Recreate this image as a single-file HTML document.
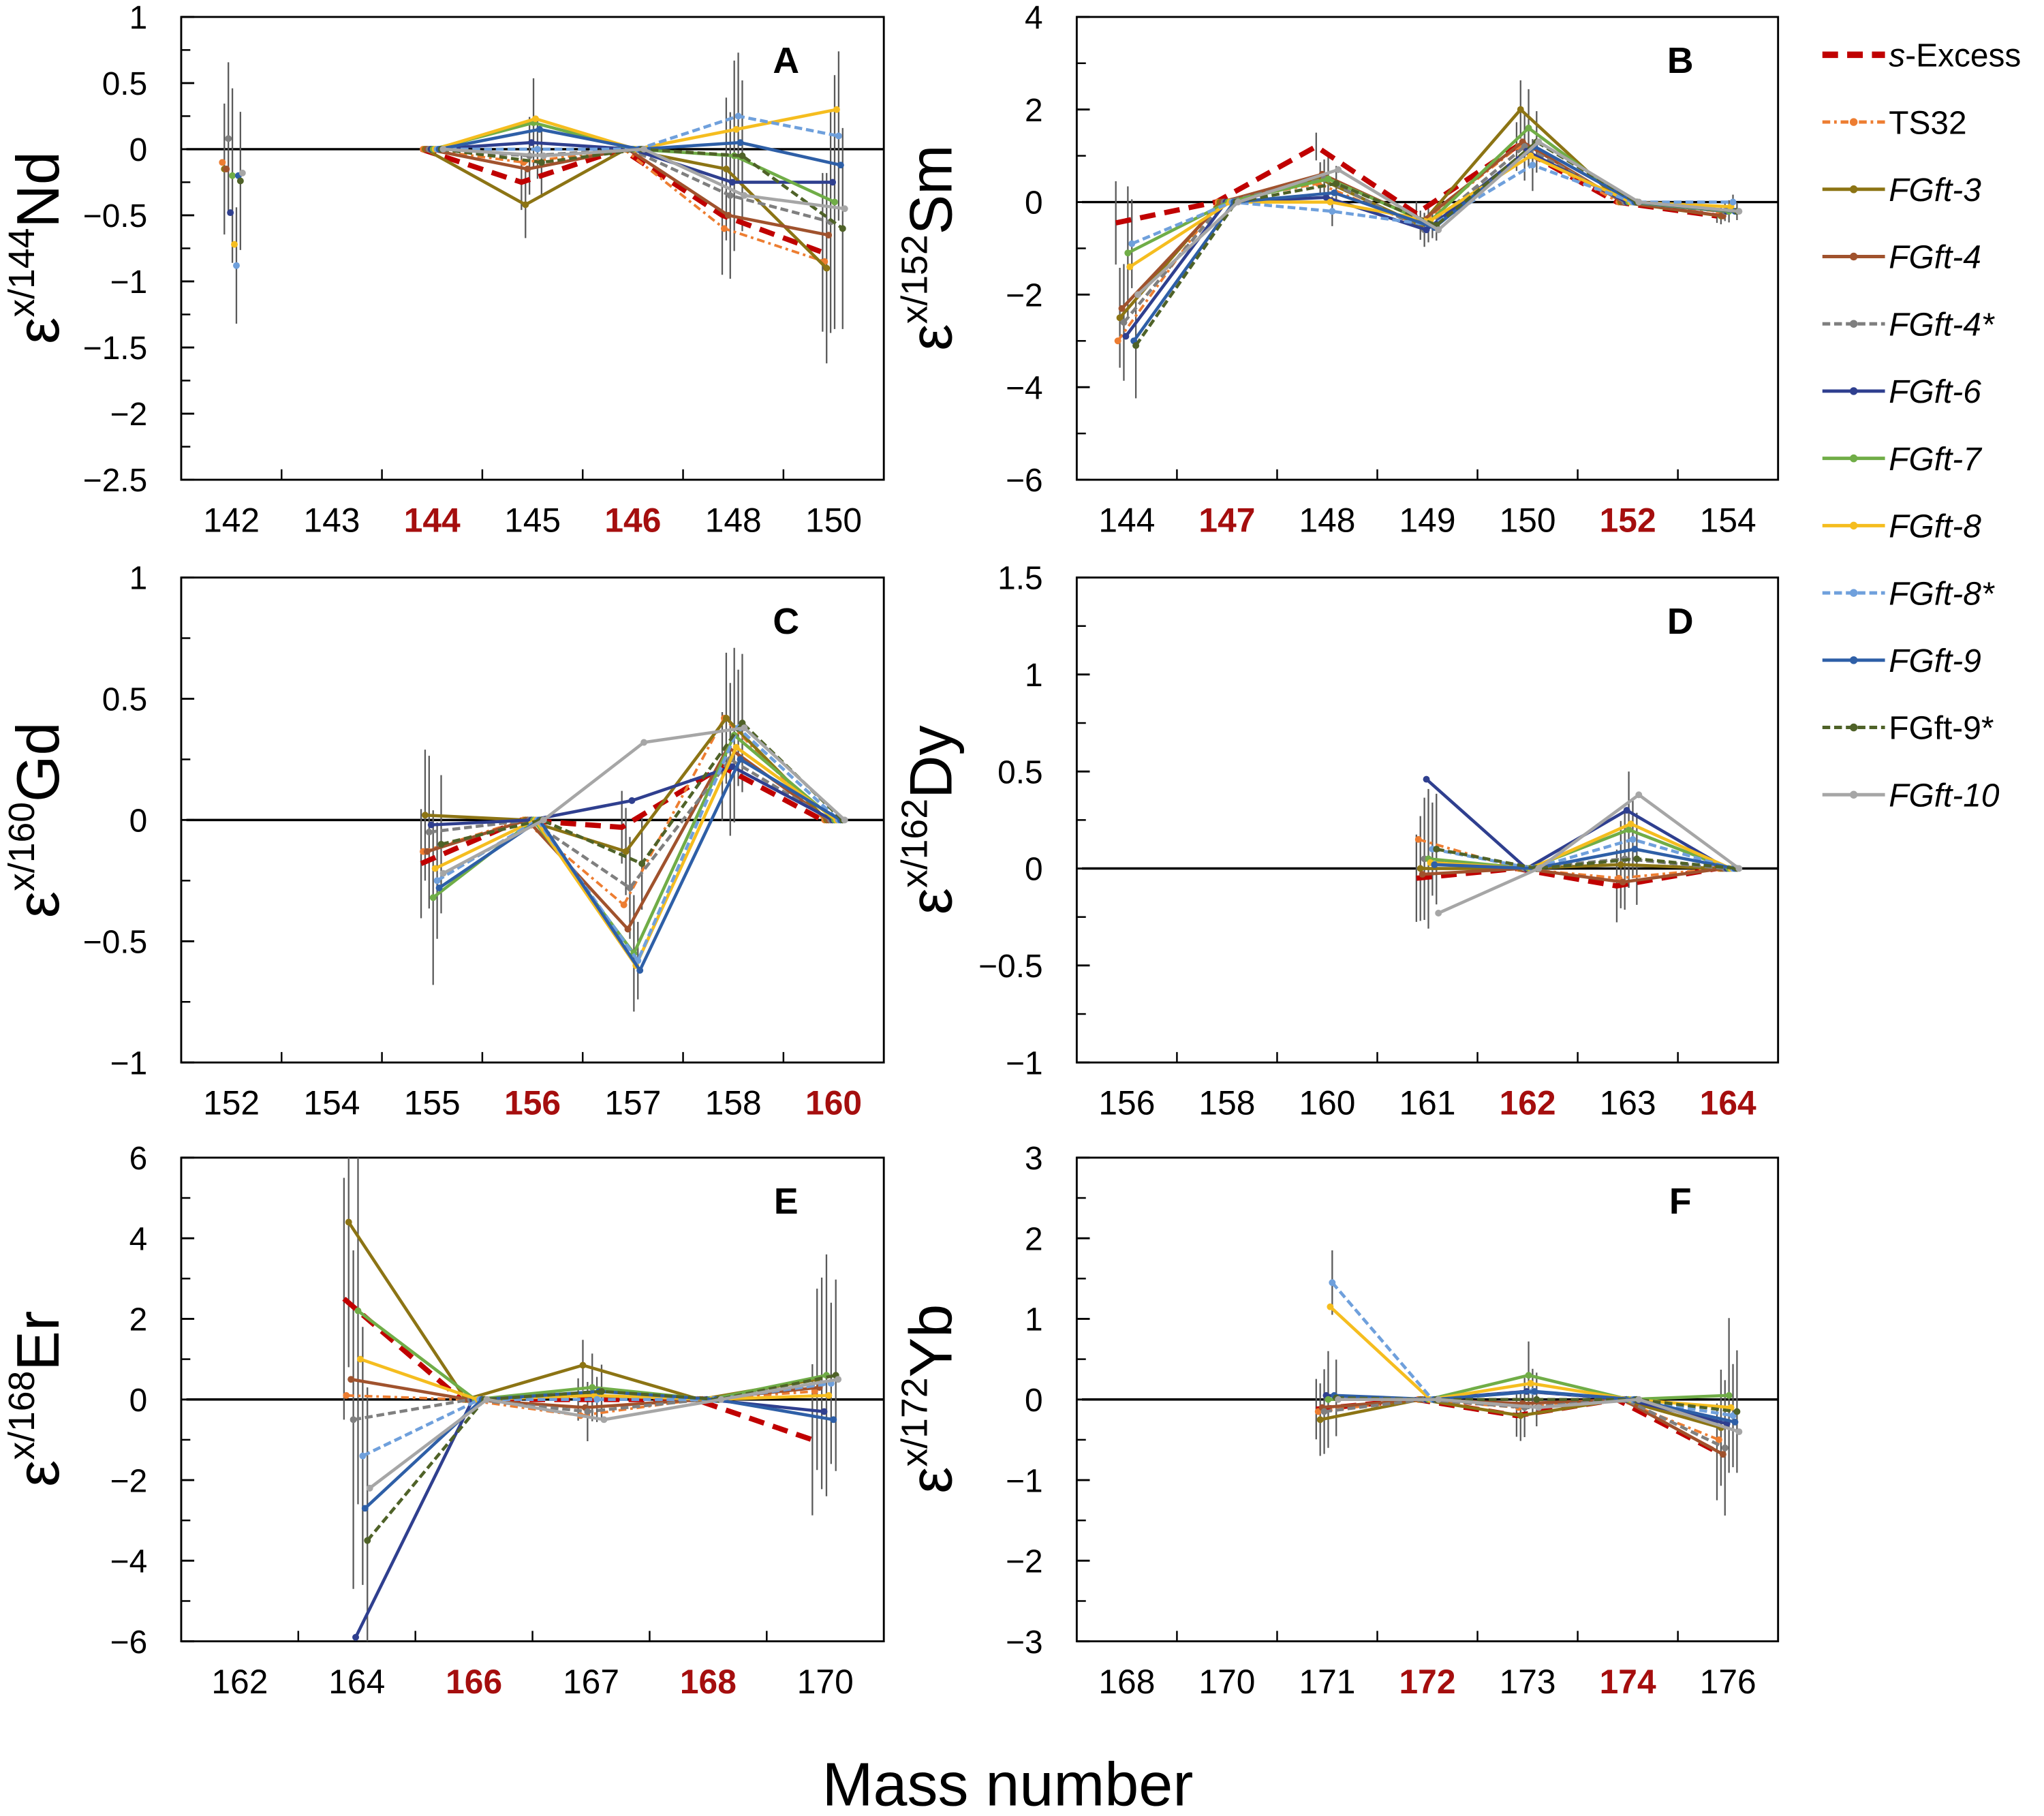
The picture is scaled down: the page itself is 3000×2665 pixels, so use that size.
<!DOCTYPE html>
<html><head><meta charset="utf-8">
<style>
html,body{margin:0;padding:0;background:#fff;}
svg{display:block;}
text{font-family:"Liberation Sans",sans-serif;}
</style></head>
<body>
<svg id="chart" width="3000" height="2665" viewBox="0 0 1568 1393" preserveAspectRatio="none" xmlns="http://www.w3.org/2000/svg">
<text x="773" y="1385" font-size="47" text-anchor="middle">Mass number</text>
</svg>
<script>
const seriesNames = ["s-Excess","TS32","FGft-3","FGft-4","FGft-4*","FGft-6","FGft-7","FGft-8","FGft-8*","FGft-9","FGft-9*","FGft-10"];
const seriesColors = ["#c00000","#ed7d31","#8c7414","#a0522d","#7f7f7f","#2f3f8f","#70ad47","#f5bd1f","#6fa0dc","#2e5fa7","#4f6228","#a6a6a6"];
const seriesDash = ["12,7","6,3,2,3","","","6,3","","","","6,3","","6,3",""];
const seriesWidth = [4,2,2.4,2.4,2.4,2.4,2.4,2.4,2.4,2.4,2.4,2.4];

const catsA = ["142","143","144","145","146","148","150"];
const redA = ["144","146"];
const ticksA = [1,0.5,0,-0.5,-1,-1.5,-2,-2.5];
const errA = [0.55,0,0,0.28,0,0.6,0.8];
const valsA = [
 [null,null,0,-0.25,0,-0.5,-0.78],
 [-0.1,null,0,-0.1,0,-0.6,-0.85],
 [-0.15,null,0,-0.42,0,-0.15,-0.9],
 [-0.15,null,0,-0.15,0,-0.5,-0.65],
 [0.08,null,0,-0.05,0,-0.35,-0.55],
 [-0.48,null,0,0.05,0,-0.25,-0.25],
 [-0.2,null,0,0.2,0,-0.05,-0.4],
 [-0.72,null,0,0.23,0,0.15,0.3],
 [-0.88,null,0,0.0,0,0.25,0.1],
 [-0.2,null,0,0.15,0,0.05,-0.12],
 [-0.24,null,0,-0.1,0,-0.05,-0.6],
 [-0.18,null,0,-0.05,0,-0.35,-0.45]];

const catsB = ["144","147","148","149","150","152","154"];
const redB = ["147","152"];
const ticksB = [4,2,0,-2,-4,-6];
const errB = [1.2,0,0.4,0.35,0.7,0,0.2];
const valsB = [
 [-0.45,0,1.2,-0.25,1.2,0,-0.3],
 [-3.0,0,0.4,-0.5,1.2,0,-0.2],
 [-2.5,0,0.5,-0.5,2.0,0,-0.3],
 [-2.3,0,0.6,-0.4,1.3,0,-0.3],
 [-2.6,0,0.5,-0.6,1.2,0,-0.2],
 [-2.9,0,0.1,-0.6,1.1,0,-0.2],
 [-1.1,0,0.5,-0.45,1.6,0,-0.2],
 [-1.4,0,0.0,-0.4,1.0,0,-0.1],
 [-0.9,0,-0.2,-0.5,0.8,0,0.0],
 [-3.0,0,0.2,-0.55,1.2,0,-0.2],
 [-3.1,0,0.4,-0.5,1.3,0,-0.2],
 [-2.0,0,0.7,-0.6,1.3,0,-0.2]];

const catsC = ["152","154","155","156","157","158","160"];
const redC = ["156","160"];
const ticksC = [1,0.5,0,-0.5,-1];
const errC = [0,0,0.3,0,0.2,0.3,0];
const valsC = [
 [null,null,-0.18,0,-0.03,0.22,0],
 [null,null,-0.13,0,-0.35,0.42,0],
 [null,null,0.02,0,-0.13,0.42,0],
 [null,null,-0.13,0,-0.45,0.3,0],
 [null,null,-0.05,0,-0.28,0.25,0],
 [null,null,-0.02,0,0.08,0.22,0],
 [null,null,-0.32,0,-0.55,0.35,0],
 [null,null,-0.2,0,-0.6,0.3,0],
 [null,null,-0.25,0,-0.58,0.38,0],
 [null,null,-0.28,0,-0.62,0.25,0],
 [null,null,-0.1,0,-0.18,0.4,0],
 [null,null,-0.22,0,0.32,0.38,0]];

const catsD = ["156","158","160","161","162","163","164"];
const redD = ["162","164"];
const ticksD = [1.5,1,0.5,0,-0.5,-1];
const errD = [0,0,0,0.3,0,0.25,0];
const valsD = [
 [null,null,null,-0.05,0,-0.09,0],
 [null,null,null,0.15,0,-0.05,0],
 [null,null,null,0.0,0,0.02,0],
 [null,null,null,-0.03,0,-0.07,0],
 [null,null,null,0.05,0,0.05,0],
 [null,null,null,0.46,0,0.3,0],
 [null,null,null,0.05,0,0.2,0],
 [null,null,null,0.03,0,0.23,0],
 [null,null,null,0.1,0,0.15,0],
 [null,null,null,0.02,0,0.1,0],
 [null,null,null,0.1,0,0.05,0],
 [null,null,null,-0.23,0,0.38,0]];

const catsE = ["162","164","166","167","168","170"];
const redE = ["166","168"];
const ticksE = [6,4,2,0,-2,-4,-6];
const errE = [0,4,0,0.7,0,2.5];
const valsE = [
 [null,2.5,0,0.0,0,-1.0],
 [null,0.1,0,-0.4,0,0.2],
 [null,4.4,0,0.85,0,0.5],
 [null,0.5,0,-0.2,0,0.3],
 [null,-0.5,0,-0.3,0,0.4],
 [null,-5.9,0,0.1,0,-0.3],
 [null,2.2,0,0.3,0,0.6],
 [null,1.0,0,0.1,0,0.1],
 [null,-1.4,0,0.0,0,0.4],
 [null,-2.7,0,0.2,0,-0.5],
 [null,-3.5,0,0.2,0,0.6],
 [null,-2.2,0,-0.5,0,0.5]];

const catsF = ["168","170","171","172","173","174","176"];
const redF = ["172","174"];
const ticksF = [3,2,1,0,-1,-2,-3];
const errF = [0,0,0.5,0,0.35,0,0.8];
const valsF = [
 [null,null,-0.12,0,-0.2,0,-0.65],
 [null,null,-0.15,0,-0.1,0,-0.5],
 [null,null,-0.25,0,-0.2,0,-0.35],
 [null,null,-0.1,0,-0.05,0,-0.68],
 [null,null,-0.15,0,-0.1,0,-0.6],
 [null,null,0.05,0,0.1,0,-0.3],
 [null,null,0.0,0,0.3,0,0.05],
 [null,null,1.15,0,0.2,0,-0.1],
 [null,null,1.45,0,0.1,0,-0.2],
 [null,null,0.05,0,0.1,0,-0.28],
 [null,null,0.02,0,0.0,0,-0.15],
 [null,null,0.0,0,-0.1,0,-0.4]];

const NS="http://www.w3.org/2000/svg";
const svg=document.getElementById('chart');
function mk(tag,attrs,parent){const e=document.createElementNS(NS,tag);for(const k in attrs)e.setAttribute(k,attrs[k]);(parent||svg).appendChild(e);return e;}

const panels=[
 {id:"a",letter:"A",x0:139,x1:678,y0:13,y1:368,cats:catsA,red:redA,ticks:ticksA,vals:valsA,err:errA,lab:"x/144",el:"Nd",ly:190,lx:45},
 {id:"b",letter:"B",x0:826,x1:1364,y0:13,y1:368,cats:catsB,red:redB,ticks:ticksB,vals:valsB,err:errB,lab:"x/152",el:"Sm",ly:190,lx:730},
 {id:"c",letter:"C",x0:139,x1:678,y0:443,y1:815,cats:catsC,red:redC,ticks:ticksC,vals:valsC,err:errC,lab:"x/160",el:"Gd",ly:629,lx:45},
 {id:"d",letter:"D",x0:826,x1:1364,y0:443,y1:815,cats:catsD,red:redD,ticks:ticksD,vals:valsD,err:errD,lab:"x/162",el:"Dy",ly:629,lx:730},
 {id:"e",letter:"E",x0:139,x1:678,y0:888,y1:1259,cats:catsE,red:redE,ticks:ticksE,vals:valsE,err:errE,lab:"x/168",el:"Er",ly:1073,lx:45},
 {id:"f",letter:"F",x0:826,x1:1364,y0:888,y1:1259,cats:catsF,red:redF,ticks:ticksF,vals:valsF,err:errF,lab:"x/172",el:"Yb",ly:1073,lx:730}];

panels.forEach(p=>{
 const g=mk('g',{});
 
 
 const n=p.cats.length, step=(p.x1-p.x0)/n;
 const ymax=p.ticks[0], ymin=p.ticks[p.ticks.length-1];
 const sx=(i,k)=>p.x0+step*(i+0.5)+(k-5.5)*step*0.02;
 const sy=v=>p.y0+(ymax-v)/(ymax-ymin)*(p.y1-p.y0);
 const cp=mk('clipPath',{id:'clip'+p.id},g);
 mk('rect',{x:p.x0,y:p.y0,width:p.x1-p.x0,height:p.y1-p.y0},cp);
 const fr=mk('rect',{x:p.x0,y:p.y0,width:p.x1-p.x0,height:p.y1-p.y0,fill:'none',stroke:'#000','stroke-width':1.5},g);
 
 
 const dt=p.ticks[0]-p.ticks[1];
 p.ticks.forEach((t,j)=>{
  const y=sy(t);
  mk('line',{x1:p.x0,x2:p.x0+10,y1:y,y2:y,stroke:'#000','stroke-width':1.5},g);
  if(j<p.ticks.length-1){const ym=sy(t-dt/2);mk('line',{x1:p.x0,x2:p.x0+7,y1:ym,y2:ym,stroke:'#000','stroke-width':1.3},g);}
  const tx=mk('text',{x:p.x0-26,y:y+9,'font-size':25,'text-anchor':'end'},g);
  tx.textContent=(t<0?'\u2212':'')+Math.abs(t);
  
  
 });
 for(let i=1;i<n;i++){const x=p.x0+step*i;mk('line',{x1:x,x2:x,y1:p.y1,y2:p.y1-8,stroke:'#000','stroke-width':1.3},g);}
 p.cats.forEach((c,i)=>{
  const isRed=p.red.indexOf(c)>=0;
  const tx=mk('text',{x:p.x0+step*(i+0.5),y:p.y1+40,'font-size':26,'text-anchor':'middle',fill:isRed?'#a50e0e':'#000','font-weight':isRed?'bold':'normal'},g);
  tx.textContent=c;
  
  
 });
 mk('line',{x1:p.x0+4,x2:p.x1,y1:sy(0),y2:sy(0),stroke:'#000','stroke-width':1.8},g);
 const yt=mk('text',{transform:`translate(${p.lx},${p.ly}) rotate(-90)`,'text-anchor':'middle','font-size':46},g);
 yt.innerHTML='ε<tspan font-size="28" dy="-19">'+p.lab+'</tspan><tspan dy="19">'+p.el+'</tspan>';
 
 
 const lt=mk('text',{x:p.x1-75,y:p.y0+43,'font-size':28,'font-weight':'bold','text-anchor':'middle'},g);
 lt.textContent=p.letter;
 
 
 const dg=mk('g',{'clip-path':`url(#clip${p.id})`},g);
 p.vals.forEach((vals,k)=>{
  vals.forEach((v,i)=>{
   if(v===null||p.err[i]===0)return;
   if(k%2===1)return;
   const e=p.err[i]*(0.75+0.05*((k*7)%11));
   const l=mk('line',{x1:sx(i,k),x2:sx(i,k),y1:sy(v+e),y2:sy(v-e),stroke:'#5a5a5a','stroke-width':1.2},dg);
   
   
  });
 });
 p.vals.forEach((vals,k)=>{
  let segs=[],cur=[];
  vals.forEach((v,i)=>{if(v===null){if(cur.length)segs.push(cur);cur=[];}else cur.push(sx(i,k)+','+sy(v));});
  if(cur.length)segs.push(cur);
  segs.forEach(s=>{
   if(s.length<2)return;
   const pl=mk('polyline',{points:s.join(' '),fill:'none',stroke:seriesColors[k],'stroke-width':seriesWidth[k],'stroke-dasharray':seriesDash[k]},dg);
   
   
  });
  vals.forEach((v,i)=>{
   if(v===null)return;
   const c=mk('circle',{cx:sx(i,k),cy:sy(v),r:k===0?0:2.6,fill:seriesColors[k]},dg);
   
   
  });
 });
});

const lg=mk('g',{});


seriesNames.forEach((s,k)=>{
 const y=42+k*51.6;
 const eg=mk('g',{},lg);
 
 
 mk('line',{x1:1398,x2:1446,y1:y,y2:y,stroke:seriesColors[k],'stroke-width':k===0?5:2.6,'stroke-dasharray':seriesDash[k]},eg);
 if(k>0)mk('circle',{cx:1422,cy:y,r:3,fill:seriesColors[k]},eg);
 const t=mk('text',{x:1449,y:y+9,'font-size':25},eg);
 if(k===0)t.innerHTML='<tspan font-style="italic">s</tspan>-Excess';
 else if(k===1||k===10)t.textContent=(k===1?'  TS32':s);
 else {t.textContent=s;t.setAttribute('font-style','italic');}
});
</script>
</body></html>
